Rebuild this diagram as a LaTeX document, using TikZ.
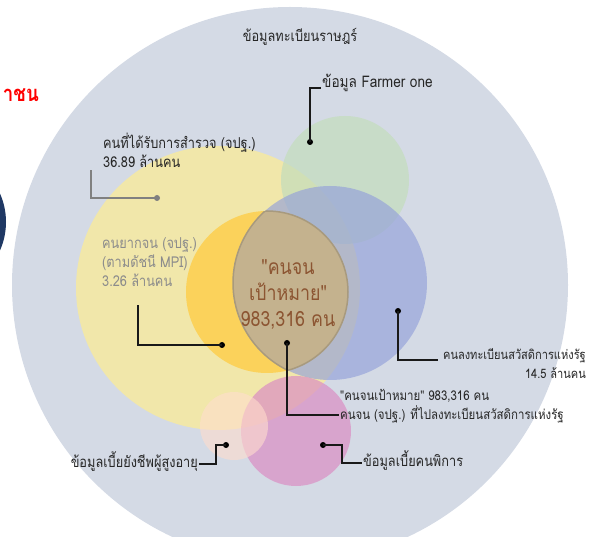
\documentclass[tikz,border=0pt]{standalone}
\usepackage{fontspec}
\newfontfamily\thaifont[Script=Thai,FakeStretch=0.85]{Loma}
\usetikzlibrary{positioning}

\definecolor{regbg}{RGB}{212,218,229}
\definecolor{survey}{RGB}{241,231,170}
\definecolor{farmer}{RGB}{195,221,188}
\definecolor{mpi}{RGB}{251,210,91}
\definecolor{welfare}{RGB}{147,160,218}
\definecolor{lens}{RGB}{196,178,142}
\definecolor{lensline}{RGB}{168,154,126}
\definecolor{disab}{RGB}{219,142,195}
\definecolor{elder}{RGB}{255,221,205}
\definecolor{target}{RGB}{140,85,50}
\definecolor{navy}{RGB}{31,56,100}

\tikzset{
  lbl/.style={font=\thaifont\fontsize{15}{19}\selectfont, text=black!85, inner sep=1pt},
  lblsmall/.style={lbl, font=\thaifont\fontsize{13.5}{19}\selectfont},
  leader/.style={line width=2pt, black!90},
  dot/.style={circle, fill=black, inner sep=0pt, minimum size=6pt},
}

\begin{document}
\begin{tikzpicture}[x=1pt,y=-1pt]
    \useasboundingbox (0,0) rectangle (600,537);
    \clip (0,0) rectangle (600,537);
    % edge of the neighbouring slide
    \fill[navy] (-64,222) circle (70);
    \node[font=\thaifont\bfseries\fontsize{22}{24}\selectfont, text=red, anchor=east, inner sep=0pt] (cut) at (39,95) {าชน};
    % circles
    \fill[regbg] (290,285) circle (278);
    \fill[survey] (218,288) circle (142);
    \fill[farmer, fill opacity=0.7] (345,180) circle (64);
    \fill[mpi] (267,292) circle (81);
    \fill[welfare, fill opacity=0.65] (330,283) circle (97);
    \begin{scope}
        \clip (267,292) circle (81);
        \fill[lens] (330,283) circle (97);
        \draw[lensline, line width=1.5pt] (330,283) circle (97);
    \end{scope}
    \begin{scope}
        \clip (330,283) circle (97);
        \draw[lensline, line width=1.5pt] (267,292) circle (81);
    \end{scope}
    \fill[disab, fill opacity=0.7] (296,431) circle (55);
    \fill[elder, fill opacity=0.6] (234,426) circle (34);
    % texts
    \node[lbl] (reg) at (300,37) {ข้อมูลทะเบียนราษฎร์};
    \node[lbl, anchor=west, font=\thaifont\fontsize{16}{19}\selectfont] (farm) at (321,83) {ข้อมูล Farmer one};
    \node[lbl, anchor=north west, align=left] (surv) at (102,132) {คนที่ได้รับการสำรวจ (จปฐ.)\\36.89 ล้านคน};
    \node[lbl, anchor=north west, align=left, text=black!45] (poor) at (101,236) {คนยากจน (จปฐ.)\\(ตามดัชนี MPI)\\3.26 ล้านคน};
    \node[lbl, text=target, align=center, font=\thaifont\fontsize{21}{26}\selectfont] (tgt) at (288,295) {"คนจน\\เป้าหมาย"\\983,316 คน};
    \node[lblsmall, anchor=north east, align=right, font=\thaifont\fontsize{13}{19}\selectfont] (welf) at (587,347) {คนลงทะเบียนสวัสดิการแห่งรัฐ\\14.5 ล้านคน};
    \node[lblsmall, anchor=west, align=left] (reach) at (339,406) {"คนจนเป้าหมาย" 983,316 คน\\คนจน (จปฐ.) ที่ไปลงทะเบียนสวัสดิการแห่งรัฐ};
    \node[lbl, anchor=west] (dis) at (362,461) {ข้อมูลเบี้ยคนพิการ};
    \node[lbl, anchor=east] (eld) at (199,462) {ข้อมูลเบี้ยยังชีพผู้สูงอายุ};
    % leaders
    \node[dot] (dF) at (310,142) {};
    \node[dot, fill=black!50] (dS) at (157,198) {};
    \node[dot] (dM) at (222,345) {};
    \node[dot] (dT) at (287,343) {};
    \node[dot] (dW) at (398,311) {};
    \node[dot] (dD) at (323,445) {};
    \node[dot] (dE) at (226,445) {};
    \coordinate (sEnd) at (91,170);
    \coordinate (mEnd) at (138,305);
    \draw[leader] (dF.center) |- ([yshift=-5pt]farm.west);
    \draw[leader, black!50] (dS.center) -| (sEnd);
    \draw[leader] (dM.center) -| (mEnd);
    \draw[leader] (dT.center) |- ([yshift=-9pt]reach.west);
    \draw[leader] (dW.center) |- ([xshift=-4pt,yshift=-13pt]welf.north west);
    \draw[leader] (dD.center) -- ++(19,0) |- ([yshift=-2pt]dis.west);
    \draw[leader] (dE.center) -- ++(-10,0) |- ([yshift=-2pt]eld.east);
\end{tikzpicture}
\end{document}
